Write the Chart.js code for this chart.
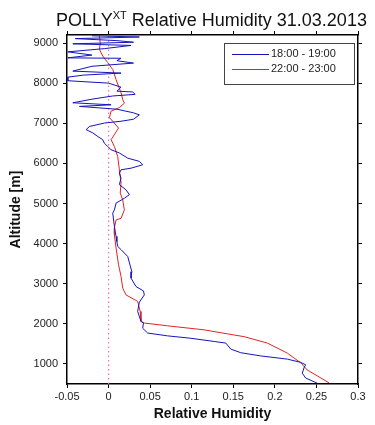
<!DOCTYPE html>
<html>
<head>
<meta charset="utf-8">
<script src="https://cdn.jsdelivr.net/npm/chart.js@4.4.1/dist/chart.umd.min.js"></script>
<style>
    body { margin: 0; background: #fff; }
    #wrap { position: relative; width: 375px; height: 425px; }
    #chart { position: absolute; left: 0; top: 0; }
    #title {
        position: absolute; left: 56px; width: 306px; top: 10px;
        text-align: center; font: 18px "Liberation Sans", Arial, sans-serif; color: #111;
        white-space: nowrap;
    }
    #title sup { font-size: 11px; line-height: 0; vertical-align: 7px; }
</style>
</head>
<body>
<div id="wrap">
    <canvas id="chart" width="375" height="425"></canvas>
    <div id="title">POLLY<sup>XT</sup> Relative Humidity 31.03.2013</div>
</div>
<script>
// Series labels
const seriesLabels = ['18:00 - 19:00', '22:00 - 23:00'];

// 18:00 - 19:00 profile (altitude in m, relative humidity)
const blueAlt = [9180, 9150, 9110, 9060, 9020, 8980, 8940, 8860, 8780, 8700, 8630, 8620, 8560, 8500, 8420, 8300,
    8250, 8200, 8150, 8060, 8000, 7900, 7800, 7780, 7720, 7680, 7600, 7510, 7460, 7420, 7350, 7260, 7210, 7100,
    7050, 7005, 6920, 6840, 6760, 6670, 6590, 6500, 6420, 6340, 6260, 6130, 6050, 5965, 5880, 5840, 5760, 5630,
    5470, 5340, 5220, 5130, 5010, 4840, 4760, 4430, 4180, 4050, 3930, 3850, 3680, 3300, 3140, 2930, 2820, 2720,
    2540, 2310, 2060, 2020, 1890, 1770, 1700, 1640, 1560, 1520, 1370, 1280, 1200, 1120, 1040, 980, 900, 770, 650, 520];
const blueRh = [-0.020, 0.037, -0.040, 0.010, 0.030, -0.043, 0.027, -0.005, -0.049, -0.020, -0.049, 0.015, 0.010, 0.030, -0.020, -0.043,
    0.015, -0.030, -0.049, -0.049, 0.000, 0.015, 0.010, 0.029, 0.032, 0.005, -0.020, -0.043, 0.003, -0.035, 0.010, 0.030, 0.037, 0.030,
    0.015, -0.005, -0.023, -0.027, -0.019, -0.013, -0.007, -0.005, -0.001, 0.003, 0.013, 0.023, 0.037, 0.041, 0.027, 0.015, 0.013, 0.015,
    0.013, 0.021, 0.025, 0.019, 0.009, 0.007, 0.005, 0.007, 0.009, 0.010, 0.011, 0.015, 0.023, 0.028, 0.027, 0.033, 0.042, 0.043,
    0.037, 0.035, 0.039, 0.042, 0.041, 0.047, 0.071, 0.099, 0.127, 0.141, 0.147, 0.159, 0.183, 0.215, 0.231, 0.237, 0.235, 0.233, 0.237, 0.251];

// 22:00 - 23:00 profile
const redAlt = [9180, 9000, 8840, 8675, 8510, 8340, 8090, 7920, 7760, 7590, 7500, 7390, 7300, 7140, 7050, 6880,
    6750, 6590, 6420, 6170, 5840, 5510, 5260, 5090, 4840, 4630, 4590, 4390, 4220, 3890, 3470, 3180, 2890, 2720,
    2560, 2310, 2060, 2020, 1950, 1850, 1750, 1680, 1520, 1270, 1030, 850, 530];
const redRh = [-0.011, -0.010, -0.011, -0.007, -0.001, 0.005, 0.009, 0.012, 0.015, 0.017, 0.019, 0.013, 0.003, 0.001, 0.005, 0.012,
    0.008, 0.003, 0.007, 0.011, 0.013, 0.015, 0.014, 0.017, 0.019, 0.015, 0.009, 0.007, 0.007, 0.009, 0.012, 0.015, 0.017, 0.021,
    0.035, 0.038, 0.039, 0.043, 0.071, 0.115, 0.143, 0.163, 0.191, 0.215, 0.231, 0.239, 0.265];

// Axes
const xTicks = [-0.05, 0, 0.05, 0.1, 0.15, 0.2, 0.25, 0.3];
const yTicks = [1000, 2000, 3000, 4000, 5000, 6000, 7000, 8000, 9000];
const xRange = [-0.05, 0.3];
const yRange = [500, 9200];

const colors = {
    blue: 'rgb(20, 20, 190)',
    red: 'rgb(225, 35, 35)',
    zero: 'rgb(240, 110, 200)',
    axis: '#000',
    text: '#222'
};

Chart.defaults.font.family = '"Liberation Sans", Arial, sans-serif';
Chart.defaults.color = colors.text;

const toPoints = (alts, vals) => alts.map((a, i) => ({ x: vals[i], y: a }));

// Caja de leyenda dentro del area del grafico
const boxLegend = {
    id: 'boxLegend',
    afterDatasetsDraw(chart) {
        const { ctx, chartArea } = chart;
        const right = chartArea.right - 4;
        const top = chartArea.top + 8;
        const w = 130, h = 41;
        ctx.save();
        ctx.fillStyle = '#fff';
        ctx.fillRect(right - w, top, w, h);
        ctx.strokeStyle = '#444';
        ctx.lineWidth = 1;
        ctx.strokeRect(right - w + 0.5, top + 0.5, w, h);
        ctx.font = '11px "Liberation Sans", Arial, sans-serif';
        ctx.textBaseline = 'middle';
        seriesLabels.forEach((label, i) => {
            const y = top + 11 + i * 15;
            ctx.strokeStyle = chart.data.datasets[i].borderColor;
            ctx.beginPath();
            ctx.moveTo(right - w + 8, y + 0.5);
            ctx.lineTo(right - w + 45, y + 0.5);
            ctx.stroke();
            ctx.fillStyle = colors.text;
            ctx.fillText(label, right - w + 47, y);
        });
        ctx.restore();
    }
};

const axisBorder = { display: true, color: colors.axis, width: 1.5 };
const tickGrid = { drawOnChartArea: false, drawTicks: true, tickLength: 4, color: colors.axis };

new Chart(document.getElementById('chart'), {
    type: 'scatter',
    data: {
        datasets: [
            {
                label: seriesLabels[0],
                data: toPoints(blueAlt, blueRh),
                showLine: true,
                borderColor: colors.blue,
                borderWidth: 1,
                pointRadius: 0,
                tension: 0
            },
            {
                label: seriesLabels[1],
                data: toPoints(redAlt, redRh),
                showLine: true,
                borderColor: colors.red,
                borderWidth: 1,
                pointRadius: 0,
                tension: 0
            },
            {
                label: 'zero',
                data: [{ x: 0, y: yRange[0] }, { x: 0, y: yRange[1] }],
                showLine: true,
                borderColor: colors.zero,
                borderWidth: 1.2,
                borderDash: [1.5, 3],
                pointRadius: 0,
                order: 5
            }
        ]
    },
    options: {
        responsive: false,
        animation: false,
        layout: { padding: { top: 31, right: 12, left: 0, bottom: 0 } },
        plugins: {
            legend: { display: false },
            tooltip: { enabled: false }
        },
        scales: {
            x: {
                type: 'linear',
                position: 'bottom',
                min: xRange[0],
                max: xRange[1],
                afterBuildTicks: s => { s.ticks = xTicks.map(v => ({ value: v })); },
                afterFit: s => { s.height = 41; },
                ticks: {
                    font: { size: 11 },
                    padding: 2,
                    maxRotation: 0,
                    callback: v => String(v)
                },
                grid: tickGrid,
                border: axisBorder,
                title: {
                    display: true,
                    text: 'Relative Humidity',
                    font: { size: 14, weight: 'bold' },
                    color: '#111',
                    padding: { top: 0, bottom: 2 }
                }
            },
            x2: {
                type: 'linear',
                position: 'top',
                min: xRange[0],
                max: xRange[1],
                afterBuildTicks: s => { s.ticks = xTicks.map(v => ({ value: v })); },
                afterFit: s => { s.height = 4; },
                ticks: { display: false },
                grid: tickGrid,
                border: axisBorder
            },
            y: {
                type: 'linear',
                position: 'left',
                min: yRange[0],
                max: yRange[1],
                afterBuildTicks: s => { s.ticks = yTicks.map(v => ({ value: v })); },
                afterFit: s => { s.width = 67; },
                ticks: {
                    font: { size: 11 },
                    padding: 5,
                    callback: v => String(v)
                },
                grid: tickGrid,
                border: axisBorder,
                title: {
                    display: true,
                    text: 'Altitude [m]',
                    font: { size: 14, weight: 'bold' },
                    color: '#111',
                    padding: { top: 8, bottom: 0 }
                }
            },
            y2: {
                type: 'linear',
                position: 'right',
                min: yRange[0],
                max: yRange[1],
                afterBuildTicks: s => { s.ticks = yTicks.map(v => ({ value: v })); },
                afterFit: s => { s.width = 5; },
                ticks: { display: false },
                grid: tickGrid,
                border: axisBorder
            }
        }
    },
    plugins: [boxLegend]
});
</script>
</body>
</html>
